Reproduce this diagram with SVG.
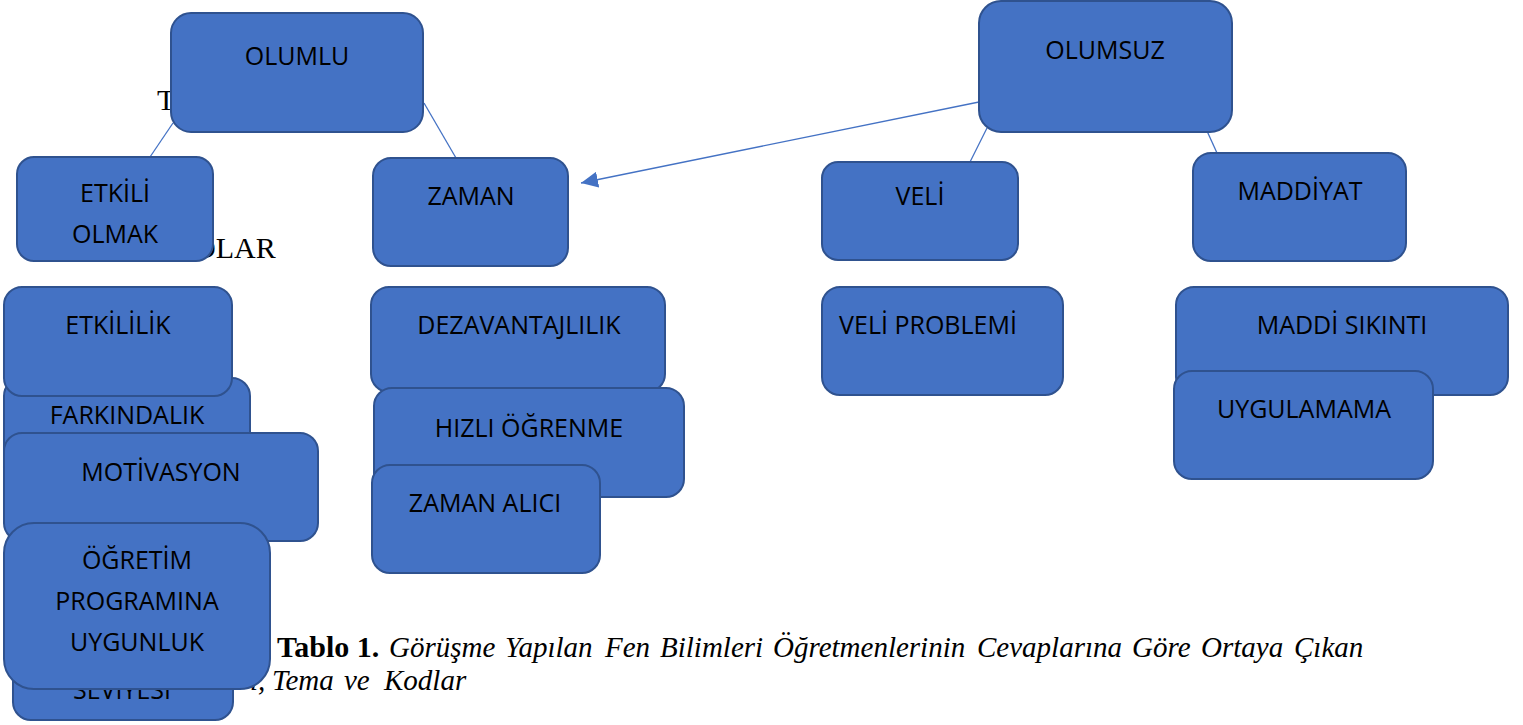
<svg xmlns="http://www.w3.org/2000/svg" width="1523" height="725" viewBox="0 0 1523 725">
<style>
.box{fill:#4472C4;stroke:#2F528F;stroke-width:2}
.lbl{font-family:"Open Sans","Noto Sans",sans-serif;font-size:25px;fill:#000;text-anchor:middle}
.serif{font-family:"Liberation Serif","Times New Roman",serif;font-size:30px;fill:#000}
.cap{font-family:"Liberation Serif","Times New Roman",serif;font-size:29px;fill:#000;font-style:italic}
.conn{stroke:#4472C4;stroke-width:1.3;fill:none}
</style>
<defs>
<marker id="ah" markerUnits="userSpaceOnUse" markerWidth="18" markerHeight="16" refX="17" refY="8" orient="auto">
<path d="M0,0 L17,8 L0,16 z" fill="#4472C4"/>
</marker>
</defs>
<rect width="1523" height="725" fill="#fff"/>
<g id="bg-text">
<text class="serif" x="157" y="110">T</text>
<text class="serif" x="194" y="258" font-size="31">DLAR</text>
</g>
<g id="caption">
<text class="serif" x="277" y="657" font-size="29" font-weight="bold">Tablo 1.</text>
<text class="cap" y="657"><tspan x="389">Görüşme</tspan><tspan x="505">Yapılan</tspan><tspan x="605">Fen</tspan><tspan x="660">Bilimleri</tspan><tspan x="773">Öğretmenlerinin</tspan><tspan x="977">Cevaplarına</tspan><tspan x="1132">Göre</tspan><tspan x="1201">Ortaya</tspan><tspan x="1294">Çıkan</tspan></text>
<text class="cap" y="690"><tspan x="250">ı,</tspan><tspan x="272">Tema</tspan><tspan x="344">ve</tspan><tspan x="384">Kodlar</tspan></text>
</g>
<g id="connectors">
<line class="conn" x1="173" y1="123" x2="150" y2="157"/>
<line class="conn" x1="424" y1="103" x2="456" y2="158"/>
<line class="conn" x1="987" y1="128" x2="970" y2="162"/>
<line class="conn" x1="1207" y1="131" x2="1217" y2="153"/>
<line class="conn" x1="979" y1="102" x2="581" y2="183" marker-end="url(#ah)"/>
</g>
<g id="olumlu"><rect class="box" x="171" y="13" width="252" height="119" rx="20"/><text class="lbl" x="297" y="65">OLUMLU</text></g>
<g id="olumsuz"><rect class="box" x="979" y="1" width="253" height="131" rx="22"/><text class="lbl" x="1105" y="59">OLUMSUZ</text></g>
<g id="etkili-olmak"><rect class="box" x="17" y="157" width="196" height="104" rx="17"/><text class="lbl" x="115" y="202">ETKİLİ</text><text class="lbl" x="115" y="243">OLMAK</text></g>
<g id="zaman"><rect class="box" x="373" y="158" width="195" height="108" rx="18"/><text class="lbl" x="471" y="205">ZAMAN</text></g>
<g id="veli"><rect class="box" x="822" y="162" width="196" height="98" rx="16"/><text class="lbl" x="920" y="205">VELİ</text></g>
<g id="maddiyat"><rect class="box" x="1193" y="153" width="213" height="108" rx="18"/><text class="lbl" x="1300" y="200">MADDİYAT</text></g>
<g id="farkindalik"><rect class="box" x="4" y="378" width="246" height="108" rx="18"/><text class="lbl" x="127" y="424">FARKINDALIK</text></g>
<g id="etkililik"><rect class="box" x="4" y="287" width="228" height="109" rx="18"/><text class="lbl" x="118" y="334">ETKİLİLİK</text></g>
<g id="motivasyon"><rect class="box" x="4" y="433" width="314" height="108" rx="18"/><text class="lbl" x="161" y="481">MOTİVASYON</text></g>
<g id="seviyesi"><rect class="box" x="13" y="612" width="220" height="108" rx="18"/><text class="lbl" x="122" y="699">SEVİYESİ</text></g>
<g id="ogretim"><rect class="box" x="4" y="523" width="266" height="166" rx="30"/><text class="lbl" x="137" y="569">ÖĞRETİM</text><text class="lbl" x="137" y="610">PROGRAMINA</text><text class="lbl" x="137" y="651">UYGUNLUK</text></g>
<g id="dezavantajlilik"><rect class="box" x="371" y="287" width="294" height="105" rx="18"/><text class="lbl" x="519" y="334">DEZAVANTAJLILIK</text></g>
<g id="hizli-ogrenme"><rect class="box" x="374" y="388" width="310" height="109" rx="18"/><text class="lbl" x="529" y="437">HIZLI ÖĞRENME</text></g>
<g id="zaman-alici"><rect class="box" x="372" y="465" width="228" height="108" rx="18"/><text class="lbl" x="485" y="512">ZAMAN ALICI</text></g>
<g id="veli-problemi"><rect class="box" x="822" y="287" width="241" height="108" rx="18"/><text class="lbl" x="928" y="334">VELİ PROBLEMİ</text></g>
<g id="maddi-sikinti"><rect class="box" x="1176" y="287" width="332" height="108" rx="18"/><text class="lbl" x="1342" y="334">MADDİ SIKINTI</text></g>
<g id="uygulamama"><rect class="box" x="1174" y="371" width="259" height="108" rx="18"/><text class="lbl" x="1304" y="418">UYGULAMAMA</text></g>
</svg>
